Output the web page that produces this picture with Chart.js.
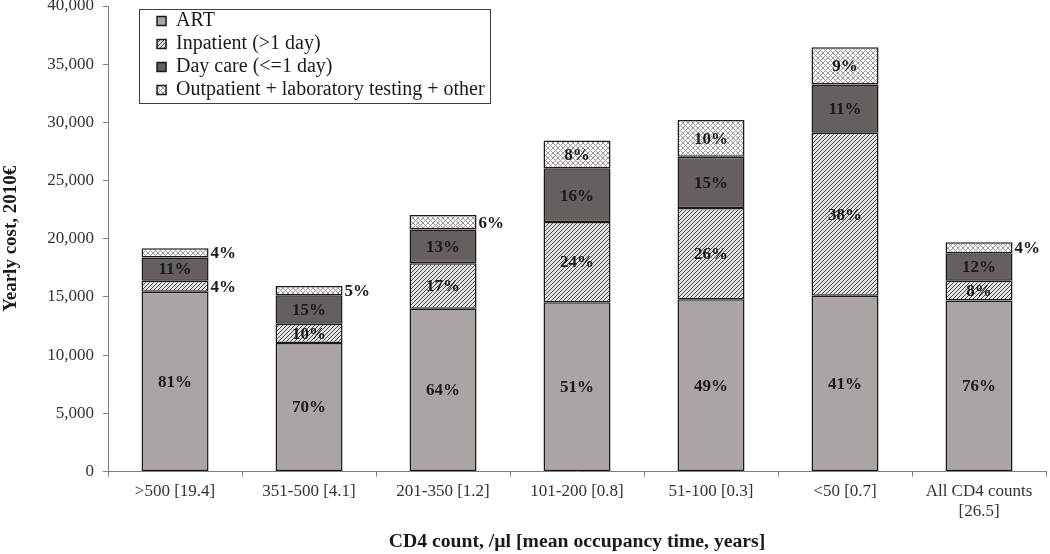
<!DOCTYPE html>
<html>
<head>
<meta charset="utf-8">
<script src="https://cdn.jsdelivr.net/npm/chart.js@4.4.1/dist/chart.umd.min.js"></script>
<style>
  html, body { margin: 0; padding: 0; background: #fff; }
  #wrap { width: 1050px; height: 554px; position: relative; }
</style>
</head>
<body>
<div id="wrap"><canvas id="chart"></canvas></div>
<script>
// Categories: CD4 band [mean occupancy time, years]
const categories = ['>500 [19.4]', '351-500 [4.1]', '201-350 [1.2]', '101-200 [0.8]', '51-100 [0.3]', '<50 [0.7]', ['All CD4 counts', '[26.5]']]
const seriesNames = ['ART', 'Inpatient (>1 day)', 'Day care (<=1 day)', 'Outpatient + laboratory testing + other']

// Yearly cost per component, 2010€
const art = [15450, 11050, 14000, 14550, 14800, 15100, 14700]
const inpatient = [950, 1650, 3900, 6900, 7850, 14000, 1700]
const dayCare = [2000, 2450, 2900, 4600, 4400, 4150, 2350]
const outpatient = [780, 800, 1250, 2400, 3150, 3200, 950]

// Share labels printed on the segments
const artPct = [81, 70, 64, 51, 49, 41, 76]
const inpatientPct = [4, 10, 17, 24, 26, 38, 8]
const dayCarePct = [11, 15, 13, 16, 15, 11, 12]
const outpatientPct = [4, 5, 6, 8, 10, 9, 4]

const yTicks = [0, 5000, 10000, 15000, 20000, 25000, 30000, 35000, 40000]

const serif = '"Liberation Serif", "Times New Roman", serif'

// Pixel tile patterns for the hatched segments
function makePattern(size, bg, fg, isInk) {
  const c = document.createElement('canvas')
  c.width = size
  c.height = size
  const cx = c.getContext('2d')
  cx.fillStyle = bg
  cx.fillRect(0, 0, size, size)
  cx.fillStyle = fg
  for (let x = 0; x < size; x++) {
    for (let y = 0; y < size; y++) {
      if (isInk(x, y)) cx.fillRect(x, y, 1, 1)
    }
  }
  return cx.createPattern(c, 'repeat')
}

const diagonal = makePattern(4, '#e2e2e2', '#4a4a4a', (x, y) => (x + y) % 4 === 3)
const crossHatch = makePattern(5, '#ffffff', '#9c9696', (x, y) => (x + y) % 5 === 0 || (x - y + 5) % 5 === 0)

// Percent labels: inside the segment, or right of the bar when it is thin
const segmentLabels = {
  id: 'segmentLabels',
  afterDatasetsDraw(chart) {
    const ctx = chart.ctx
    const pcts = [artPct, inpatientPct, dayCarePct, outpatientPct]
    ctx.save()
    ctx.font = 'bold 17px ' + serif
    ctx.fillStyle = '#1a1a1a'
    ctx.textBaseline = 'middle'
    chart.data.datasets.forEach((ds, i) => {
      const meta = chart.getDatasetMeta(i)
      meta.data.forEach((bar, j) => {
        const { x, y, base, width } = bar.getProps(['x', 'y', 'base', 'width'], true)
        const text = pcts[i][j] + '%'
        const cy = (y + base) / 2
        if (ds.data[j] < 1500) {
          ctx.textAlign = 'left'
          ctx.fillText(text, x + width / 2 + 2, cy + 1)
        } else {
          ctx.textAlign = 'center'
          ctx.fillText(text, x, cy + 1)
        }
      })
    })
    ctx.restore()
  },
}

// Move the legend inside the plot and draw a frame round it
const legendFrame = {
  id: 'legendFrame',
  afterLayout(chart) {
    const lg = chart.legend
    const area = chart.chartArea
    lg.left = area.left + 46
    lg.right = lg.left + lg.width
    lg.top = area.top + 2
    lg.bottom = lg.top + lg.height
  },
  afterDraw(chart) {
    const lg = chart.legend
    const ctx = chart.ctx
    ctx.save()
    ctx.font = '20px ' + serif
    let maxW = 0
    seriesNames.forEach((n) => { maxW = Math.max(maxW, ctx.measureText(n).width) })
    const x0 = lg.left - 15
    const x1 = lg.left + 3 + 9 + 10 + maxW + 5
    ctx.strokeStyle = '#404040'
    ctx.lineWidth = 1
    ctx.strokeRect(Math.round(x0) + 0.5, Math.round(lg.top + 1) + 0.5, Math.round(x1 - x0), 94)
    ctx.restore()
  },
}

const barStyle = { borderColor: '#1a1a1a', borderWidth: 1.5, borderSkipped: false }

new Chart(document.getElementById('chart'), {
  type: 'bar',
  data: {
    labels: categories,
    datasets: [
      { label: seriesNames[0], data: art, backgroundColor: '#aaa4a2', ...barStyle },
      { label: seriesNames[1], data: inpatient, backgroundColor: diagonal, ...barStyle },
      { label: seriesNames[2], data: dayCare, backgroundColor: '#655f5e', ...barStyle },
      { label: seriesNames[3], data: outpatient, backgroundColor: crossHatch, ...barStyle },
    ],
  },
  options: {
    responsive: true,
    maintainAspectRatio: false,
    animation: false,
    layout: { padding: { left: 0, right: 4, top: 0, bottom: 0 } },
    datasets: { bar: { barPercentage: 1, categoryPercentage: 0.5 } },
    plugins: {
      tooltip: { enabled: false },
      legend: {
        position: 'chartArea',
        align: 'start',
        labels: {
          color: '#1a1a1a',
          font: { family: serif, size: 20 },
          boxWidth: 9,
          boxHeight: 9,
          padding: 3,
        },
      },
    },
    scales: {
      x: {
        stacked: true,
        grid: { offset: true, drawOnChartArea: false, tickLength: 5, color: '#7f7f7f' },
        border: { color: '#7f7f7f' },
        ticks: {
          color: '#333333',
          font: { family: serif, size: 17, lineHeight: 1.17 },
          padding: 5,
          maxRotation: 0,
          autoSkip: false,
        },
        title: {
          display: true,
          text: 'CD4 count, /µl [mean occupancy time, years]',
          color: '#1a1a1a',
          font: { family: serif, size: 19.7, weight: 'bold' },
          padding: { top: 4, bottom: 0 },
        },
      },
      y: {
        stacked: true,
        min: 0,
        max: 40000,
        afterBuildTicks: (axis) => { axis.ticks = yTicks.map((v) => ({ value: v })) },
        afterFit: (axis) => { axis.paddingTop = 6; axis.paddingBottom = 0 },
        grid: { drawOnChartArea: false, tickLength: 5, color: '#7f7f7f' },
        border: { color: '#7f7f7f' },
        ticks: {
          color: '#333333',
          font: { family: serif, size: 17 },
          padding: 9,
          callback: (v) => v.toLocaleString('en-US'),
        },
        title: {
          display: true,
          text: 'Yearly cost, 2010€',
          color: '#1a1a1a',
          font: { family: serif, size: 19, weight: 'bold' },
          padding: { top: 0, bottom: 15.5 },
        },
      },
    },
  },
  plugins: [segmentLabels, legendFrame],
})
</script>
</body>
</html>
